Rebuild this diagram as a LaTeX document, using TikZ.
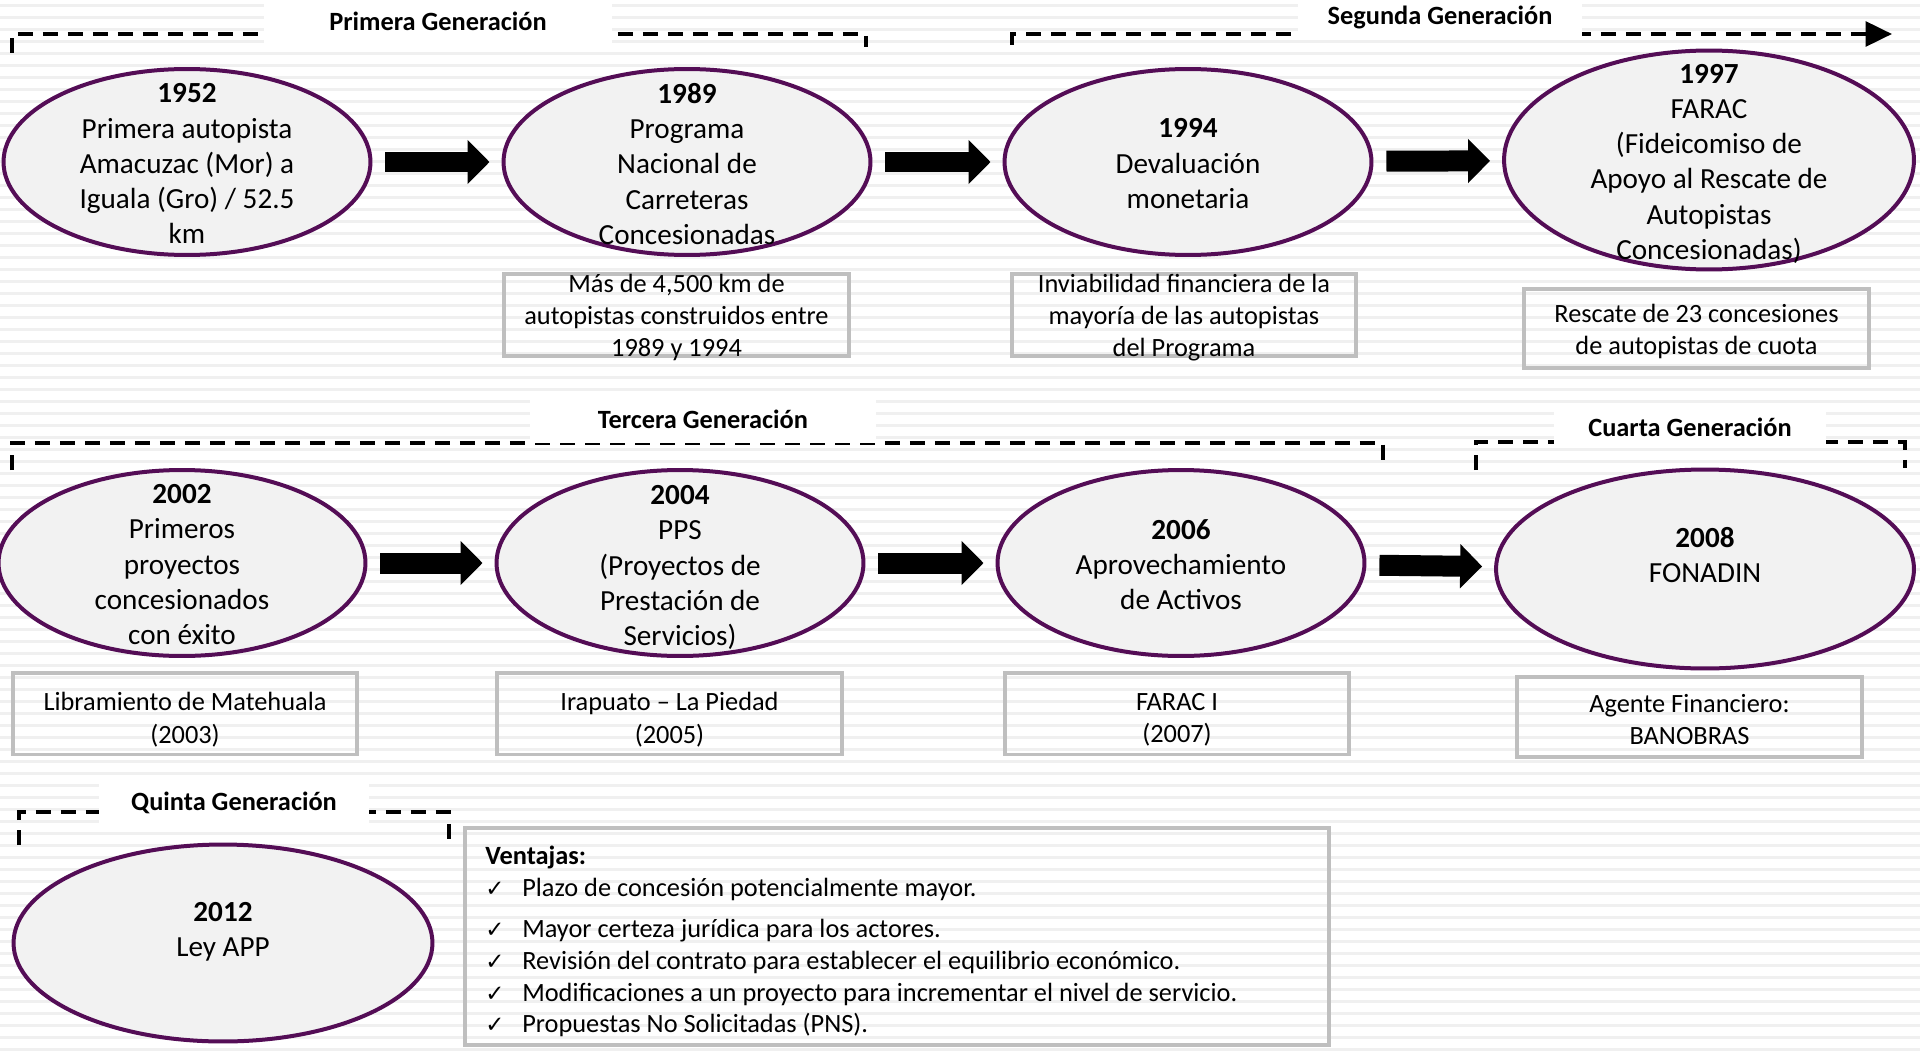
\documentclass[tikz,border=0pt]{standalone}
\usepackage{fontspec}
\setmainfont{Carlito}
\newfontfamily\ckfont{DejaVu Sans}
\usetikzlibrary{shapes.geometric,arrows.meta}
\definecolor{morado}{RGB}{84,13,86}
\definecolor{relleno}{RGB}{242,242,242}
\definecolor{marco}{RGB}{191,191,191}
\definecolor{franjas}{RGB}{240,240,240}
\newcommand{\ck}{\makebox[21pt][l]{\ckfont\fontsize{13}{13}\selectfont ✓}}
\begin{document}
\begin{tikzpicture}[x=0.02cm,y=-0.02cm,
  evento/.style={ellipse,draw=morado,fill=relleno,line width=0.08cm,minimum width=7.34cm,minimum height=3.72cm},
  evtxt/.style={align=center,inner sep=0pt,yshift=-1pt,font=\fontsize{16.6}{20.1}\selectfont},
  nota/.style={draw=marco,line width=0.08cm,minimum width=6.9cm,minimum height=1.64cm},
  notatxt/.style={align=center,inner sep=0pt,yshift=-1.5pt,font=\fontsize{15}{18.4}\selectfont},
  gen/.style={fill=white,inner sep=0pt,font=\fontsize{15}{18}\selectfont\bfseries},
  llave/.style={line width=0.08cm,dash pattern=on 0.3cm off 0.2cm},
  bloque/.style={line width=0.42cm,-{Triangle[length=0.44cm,width=0.86cm]},shorten <=0.26cm,shorten >=0.24cm}]
\fill[white] (0,0) rectangle (1920,1049);
\foreach \k in {0,...,87} \fill[franjas] (0,12*\k+4) rectangle (1920,12*\k+7);
\useasboundingbox (0,0) rectangle (1920,1049);
\draw[llave] (12,53) -- (12,34) -- (866,34) -- (866,47);
\draw[llave,-{Triangle[length=15pt,width=14pt]}] (1012,45) -- (1012,34) -- (1892,34);
\draw[llave] (12,470) -- (12,443) -- (1383,443) -- (1383,466);
\draw[llave] (1476,470) -- (1476,442) -- (1905,442) -- (1905,468);
\draw[llave] (19,845) -- (19,812) -- (449,812) -- (449,845);
\node[gen,minimum width=6.98cm,minimum height=0.88cm] (G1) at (438,21) {Primera Generación};
\node[gen,minimum width=5.7cm,minimum height=0.8cm] (G2) at (1440,17) {Segunda Generación};
\node[gen,minimum width=6.94cm,minimum height=0.96cm] (G3) at (703,419) {Tercera Generación};
\node[gen,minimum width=5.46cm,minimum height=0.8cm] (G4) at (1690,427) {Cuarta Generación};
\node[gen,minimum width=5.42cm,minimum height=0.8cm] (G5) at (234,803) {Quinta Generación};
\node[evento] (E1) at (187,162) {};
\node[evento] (E2) at (687,162) {};
\node[evento] (E3) at (1188,162) {};
\node[evento,minimum width=8.2cm,minimum height=4.38cm] (E4) at (1709,160) {};
\node[evento] (E5) at (182,563) {};
\node[evento] (E6) at (680,563) {};
\node[evento] (E7) at (1181,563) {};
\node[evento,minimum width=8.36cm,minimum height=3.98cm] (E8) at (1705,569) {};
\node[evento,minimum width=8.38cm,minimum height=3.94cm] (E9) at (223,943) {};
\node[evtxt] (T1) at (E1) {\textbf{1952}\\Primera autopista\\Amacuzac (Mor) a\\Iguala (Gro) / 52.5\\km};
\node[evtxt] (T2) at (E2) {\textbf{1989}\\Programa\\Nacional de\\Carreteras\\Concesionadas};
\node[evtxt] (T3) at (E3) {\textbf{1994}\\Devaluación\\monetaria};
\node[evtxt] (T4) at (1709,162) {\textbf{1997}\\FARAC\\(Fideicomiso de\\Apoyo al Rescate de\\Autopistas\\Concesionadas)};
\node[evtxt] (T5) at (E5) {\textbf{2002}\\Primeros\\proyectos\\concesionados\\con éxito};
\node[evtxt] (T6) at (680,566) {\textbf{2004}\\PPS\\(Proyectos de\\Prestación de\\Servicios)};
\node[evtxt] (T7) at (E7) {\textbf{2006}\\Aprovechamiento\\de Activos};
\node[evtxt] (T8) at (1705,553) {\textbf{2008}\\FONADIN};
\node[evtxt] (T9) at (223,930) {\textbf{2012}\\Ley APP};
\draw[bloque] (E1) -- (E2);
\draw[bloque] (E2) -- (E3);
\draw[bloque] (E3) -- (E4);
\draw[bloque] (E5) -- (E6);
\draw[bloque] (E6) -- (E7);
\draw[bloque] (E7) -- (E8);
\node[nota] (B2) at (676.5,315) {};
\node[nota] (B3) at (1184,315) {};
\node[nota,minimum height=1.58cm] (B4) at (1696.5,328.5) {};
\node[nota] (B5) at (185,713.5) {};
\node[nota] (B6) at (669.5,713.5) {};
\node[nota] (B7) at (1177,713.5) {};
\node[nota,minimum height=1.6cm] (B8) at (1689.5,717) {};
\node[notatxt] (N2) at (B2) {Más de 4,500 km de\\autopistas construidos entre\\1989 y 1994};
\node[notatxt] (N3) at (B3) {Inviabilidad financiera de la\\mayoría de las autopistas\\del Programa};
\node[notatxt] (N4) at (B4) {Rescate de 23 concesiones\\de autopistas de cuota};
\node[notatxt] (N5) at (185,717) {Libramiento de Matehuala\\(2003)};
\node[notatxt] (N6) at (669.5,717) {Irapuato – La Piedad\\(2005)};
\node[notatxt] (N7) at (1177,717) {FARAC I\\(2007)};
\node[notatxt] (N8) at (B8) {Agente Financiero:\\BANOBRAS};
\node[nota,minimum width=17.28cm,minimum height=4.34cm] (V) at (897,936.5) {};
\node[align=left,inner sep=0pt,anchor=north west,font=\fontsize{15}{18}\selectfont] (VT) at (485,846) {\textbf{Ventajas:}\\
\ck Plazo de concesión potencialmente mayor.\\[5.5pt]
\ck Mayor certeza jurídica para los actores.\\
\ck Revisión del contrato para establecer el equilibrio económico.\\
\ck Modificaciones a un proyecto para incrementar el nivel de servicio.\\
\ck Propuestas No Solicitadas (PNS).};
\end{tikzpicture}
\end{document}
